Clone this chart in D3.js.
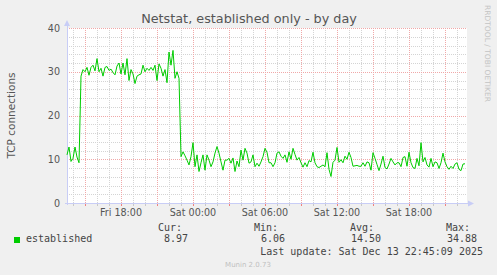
<!DOCTYPE html>
<html>
<head>
<meta charset="utf-8">
<script src="https://cdn.jsdelivr.net/npm/d3@7"></script>
<style>
body{margin:0;background:#f0f0f0;}
svg{display:block;font-family:"DejaVu Sans",sans-serif;}
.mono{font-family:"DejaVu Sans Mono",monospace;}
</style>
</head>
<body>
<svg width="497" height="275"></svg>
<script>
// munin day graph: 400 px, 5 min per px, samples read every 10 min
const title = "Netstat, established only - by day";
const yLabel = "TCP connections";
const seriesName = "established";
const startTime = new Date(2025, 11, 12, 13, 30);
const stepMinutes = 10;
const established = [
  11, 12.8, 9.5, 10.2, 12.8, 10.5, 9.2,
  29, 30.5, 30, 31, 29.2, 31, 31.5, 30.2, 33, 30,
  30.8, 29, 31, 31.2, 30.3, 30.6, 29.8, 29.3, 31.3, 32,
  29.5, 32, 29.3, 33, 28, 30.5, 29.5, 27.3, 29, 29.3,
  29.5, 31.5, 30, 30.8, 30.3, 31, 30.3, 31.5, 28, 31.8,
  30.8, 29, 30.5, 27.5, 34.5, 31.5, 34.88, 28.5, 30, 28.5,
  10.6, 11.7, 10.8, 9.8, 8.7, 10.6, 13.8, 8.3, 11, 7.2,
  9.2, 11, 7.5, 11, 9.8, 8.3, 9.4, 11.4, 12.9, 11.4,
  9.4, 7.5, 9.8, 9.8, 10.2, 9.1, 10.3, 7.2, 9.6, 8.3,
  12.1, 9.8, 12.5, 11.4, 9.1,
  9.4, 11, 8.3, 9.1, 8.4, 9.4, 10.6, 12.5, 11.6, 9.2,
  9.2, 8.3, 9.2, 11.4, 11.7, 10.7, 10.2, 11, 9.3, 11.7,
  10, 12.5, 11.1, 9.8, 10.4, 9.2, 8.2, 9.2, 8.3, 9.7,
  9.4, 11.6, 9.2, 8.3, 8.1, 8.4, 8.7, 8.3, 11.5, 7.7,
  6.06, 9.3, 9.8, 12.7, 9.3, 9.9, 9.2, 10.7, 10, 11.6,
  10.4, 8.4, 8.5, 8.6, 8.4, 8.4, 9.2, 8.4, 9.4, 9.2,
  7.5, 11.5, 10.2, 8.8, 7.4, 8.9, 10.7, 8.1, 7.8, 8.9,
  10.2, 9.4, 8.7, 9.2, 9.2, 8.3, 10.4, 10.6, 8.4, 11.6,
  9.2, 8.1, 7.9, 10.2, 8.5, 13.8, 9.4, 10.4, 8.7, 8.2,
  10.2, 8.3, 9.4, 9.2, 7.9, 9.2, 11.4, 9.4, 8.3, 7.7,
  8.4, 7.9, 8.9, 9.2, 7.7, 7.4, 8.9, 8.97
];
const yTicks = [0, 10, 20, 30, 40];
const legendHeads = ["Cur:", "Min:", "Avg:", "Max:"];
const legendValues = ["8.97", "6.06", "14.50", "34.88"];
const lastUpdate = "Last update: Sat Dec 13 22:45:09 2025";
const footer = "Munin 2.0.73";
const watermark = "RRDTOOL / TOBI OETIKER";

const svg = d3.select('svg');
const width = +svg.attr("width");
const height = +svg.attr("height");

const plot = {left: 67, top: 28, width: 400, height: 175};
const endTime = new Date(startTime.getTime() + 400 * 300 * 1000);

const xScale = d3.scaleTime().domain([startTime, endTime]).range([plot.left, plot.left + plot.width]);
const yScale = d3.scaleLinear().domain([0, 40]).range([plot.top + plot.height, plot.top]);
const px = v => Math.round(v) + 0.5;

svg.append('rect').attr("width", width).attr("height", height).attr("fill", "#f0f0f0");
svg.append('rect').attr("x", plot.left).attr("y", plot.top)
  .attr("width", plot.width).attr("height", plot.height).attr("fill", "#fff");

const grid = svg.append('g').attr("stroke-width", 1).attr("stroke-dasharray", "1,1").attr("shape-rendering", "crispEdges");
// minor grid
grid.selectAll('.vmin').data(d3.timeHour.every(1).range(startTime, endTime)).enter().append('line')
  .attr("x1", d => px(xScale(d))).attr("x2", d => px(xScale(d)))
  .attr("y1", plot.top).attr("y2", plot.top + plot.height).attr("stroke", "#d4d4d4");
grid.selectAll('.hmin').data(d3.range(2, 41, 2)).enter().append('line')
  .attr("x1", plot.left).attr("x2", plot.left + plot.width)
  .attr("y1", d => px(yScale(d))).attr("y2", d => px(yScale(d))).attr("stroke", "#d4d4d4");
// major grid
grid.selectAll('.vmaj').data(d3.timeHour.every(3).range(startTime, endTime)).enter().append('line')
  .attr("x1", d => px(xScale(d))).attr("x2", d => px(xScale(d)))
  .attr("y1", plot.top).attr("y2", plot.top + plot.height).attr("stroke", "#f0a8a8");
grid.selectAll('.hmaj').data(yTicks.slice(1)).enter().append('line')
  .attr("x1", plot.left).attr("x2", plot.left + plot.width)
  .attr("y1", d => px(yScale(d))).attr("y2", d => px(yScale(d))).attr("stroke", "#f0a8a8");

// axes + arrows
const axisColor = "#c8cdf6";
const ax = svg.append('g').attr("stroke", axisColor).attr("shape-rendering", "crispEdges");
ax.append('line').attr("x1", plot.left - 2).attr("x2", plot.left + plot.width + 4)
  .attr("y1", px(yScale(0))).attr("y2", px(yScale(0)));
ax.append('line').attr("x1", px(plot.left - 0.5)).attr("x2", px(plot.left - 0.5))
  .attr("y1", plot.top + plot.height + 2).attr("y2", plot.top - 5);
svg.append('path').attr("fill", axisColor)
  .attr("d", `M${plot.left + plot.width + 1},${yScale(0) - 2.5}L${plot.left + plot.width + 7},${yScale(0) + 0.5}L${plot.left + plot.width + 1},${yScale(0) + 3.5}Z`);
svg.append('path').attr("fill", axisColor)
  .attr("d", `M${plot.left - 3},${plot.top - 2}L${plot.left},${plot.top - 8}L${plot.left + 3},${plot.top - 2}Z`);

// small ticks on x axis
svg.append('g').attr("shape-rendering", "crispEdges").selectAll('line')
  .data(d3.timeHour.every(1).range(startTime, endTime)).enter().append('line')
  .attr("x1", d => px(xScale(d))).attr("x2", d => px(xScale(d)))
  .attr("y1", yScale(0) + 1).attr("y2", yScale(0) + 3)
  .attr("stroke", d => d.getHours() % 3 === 0 ? "#f08080" : "#c8c8c8");

// series line
const line = d3.line()
  .x((d, i) => xScale(new Date(startTime.getTime() + i * stepMinutes * 60000)))
  .y(d => yScale(d));
svg.append('path').datum(established).attr("d", line)
  .attr("fill", "none").attr("stroke", "#00cc00").attr("stroke-width", 1);

// tick labels
const textColor = "#555";
svg.append('g').selectAll('text').data(yTicks).enter().append('text')
  .attr("x", plot.left - 7).attr("y", d => yScale(d) + 3.5)
  .attr("text-anchor", "end").attr("font-size", "9.6px").attr("fill", textColor)
  .text(d => d);
const fmt = d3.timeFormat("%a %H:%M");
svg.append('g').selectAll('text').data(d3.timeHour.every(6).range(startTime, endTime)).enter().append('text')
  .attr("x", d => xScale(d)).attr("y", 216)
  .attr("text-anchor", "middle").attr("font-size", "9.6px").attr("fill", textColor)
  .text(d => fmt(d));

svg.append('text').attr("x", 249).attr("y", 23).attr("text-anchor", "middle")
  .attr("font-size", "12.8px").attr("fill", textColor).text(title);
svg.append('text').attr("transform", `translate(15,${plot.top + plot.height / 2}) rotate(-90)`)
  .attr("text-anchor", "middle").attr("font-size", "10.5px").attr("fill", textColor).text(yLabel);
svg.append('text').attr("transform", `translate(485,5) rotate(90)`)
  .attr("font-size", "7.5px").attr("fill", "#c4c4c4")
  .attr("textLength", 97).attr("lengthAdjust", "spacing").text(watermark);

// legend
svg.append('rect').attr("x", 14).attr("y", 237).attr("width", 6).attr("height", 6).attr("fill", "#00cc00");
const lg = svg.append('g').attr("class", "mono").attr("font-size", "10px").attr("fill", "#444");
lg.append('text').attr("x", 26).attr("y", 242).text(seriesName);
const colRight = [182, 278, 374, 470];
const valRight = [188, 285, 381, 477];
lg.selectAll('.h').data(legendHeads).enter().append('text')
  .attr("x", (d, i) => colRight[i]).attr("y", 231).attr("text-anchor", "end").text(d => d);
lg.selectAll('.v').data(legendValues).enter().append('text')
  .attr("x", (d, i) => valRight[i]).attr("y", 242).attr("text-anchor", "end").text(d => d);
lg.append('text').attr("x", 483).attr("y", 255).attr("text-anchor", "end").text(lastUpdate);

svg.append('text').attr("x", 248).attr("y", 267).attr("text-anchor", "middle")
  .attr("font-size", "7px").attr("fill", "#c0c0c0").text(footer);
</script>
</body>
</html>
